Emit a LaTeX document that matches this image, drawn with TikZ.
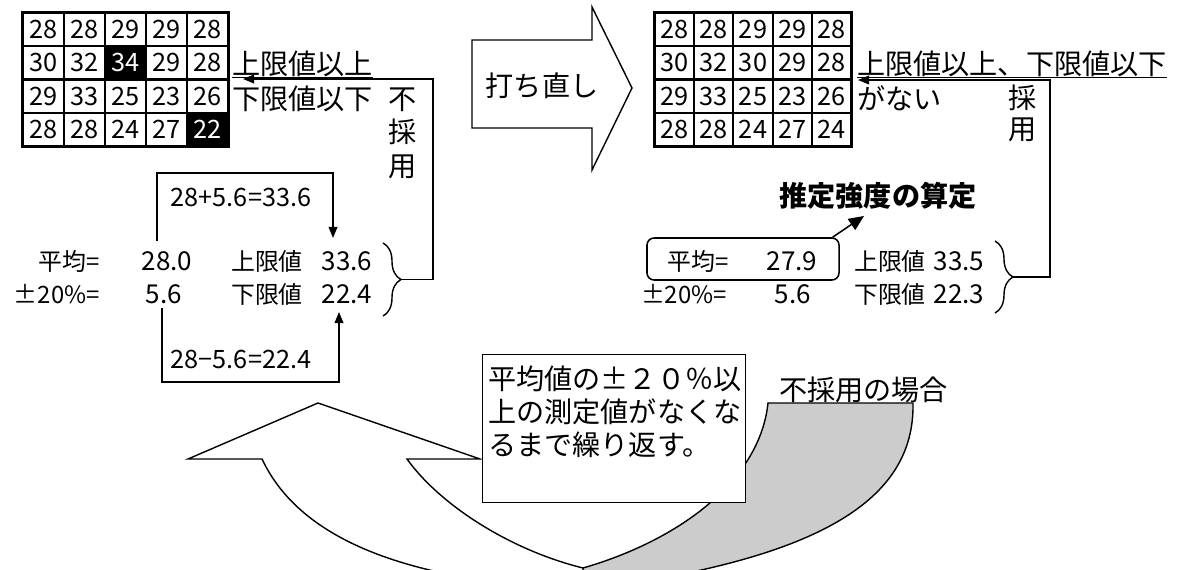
\documentclass[tikz,border=0pt]{standalone}
\usepackage{fontspec}
\setmainfont{Noto Sans CJK JP}
\usetikzlibrary{arrows.meta,decorations.pathreplacing,positioning}
\definecolor{backgray}{RGB}{204,204,204}

\begin{document}
\begin{tikzpicture}[x=0.025cm, y=-0.025cm,
        cell/.style={draw, line width=1.4pt, minimum width=1.025cm, minimum height=0.83cm,
            inner sep=0pt, font=\fontsize{18}{20}\selectfont},
        hot/.style={cell, fill=black, text=white},
        rcell/.style={cell, minimum width=0.98cm},
        lbl/.style={inner sep=0pt, font=\fontsize{20}{24}\selectfont},
        stat/.style={inner sep=0pt, font=\fontsize{17}{20}\selectfont},
        statnum/.style={inner sep=0pt, font=\fontsize{18.5}{20}\selectfont},
        arrow/.style={-{Triangle[length=0.28cm, width=0.22cm]}, line width=1.2pt},
        rbrace/.style={decorate, decoration={brace, amplitude=0.45cm}, line width=1pt},
        block/.style={draw, line width=1pt, fill=white}
    ]
        \useasboundingbox (0,0) rectangle (1178,570);

        % measured values before re-testing
        \foreach \row [count=\r] in {{28/cell,28/cell,29/cell,29/cell,28/cell},
                {30/cell,32/cell,34/hot,29/cell,28/cell},
                {29/cell,33/cell,25/cell,23/cell,26/cell},
                {28/cell,28/cell,24/cell,27/cell,22/hot}}
            \foreach \v/\s [count=\c] in \row
                \node[\s] (L\r\c) at ({23+41*(\c-0.5)},{13+33.25*(\r-0.5)}) {\v};
        \draw[line width=2pt] (L11.north west) rectangle (L45.south east);

        % values after re-testing
        \foreach \row [count=\r] in {{28,28,29,29,28},{30,32,30,29,28},
                {29,33,25,23,26},{28,28,24,27,24}}
            \foreach \v [count=\c] in \row
                \node[rcell] (R\r\c) at ({655+39.2*(\c-0.5)},{13+33.25*(\r-0.5)}) {\v};
        \draw[line width=2pt] (R11.north west) rectangle (R45.south east);

        % notes beside the grids
        \node[lbl, anchor=west] (Lover) at (232,64) {上限値以上};
        \draw[line width=1pt] (Lover.south west) -- (Lover.south east);
        \node[lbl, anchor=west] (Lunder) at (232,99) {下限値以下};
        \node[lbl, align=center, font=\fontsize{20}{23.8}\selectfont] (Lreject) at (403,133) {不\\採\\用};

        \node[lbl, anchor=west] (Rnone) at (857,64) {上限値以上、下限値以下};
        \draw[line width=1pt] (Rnone.south west) -- (Rnone.south east);
        \node[lbl, anchor=west] (Rnone2) at (857,98) {がない};
        \node[lbl, align=center, font=\fontsize{20}{22}\selectfont] (Raccept) at (1023,113.5) {採\\用};

        % block arrow
        \draw[block] (472,40) -- (592,40) -- (592,7) -- (632,88) -- (592,170) -- (592,128) -- (472,128) -- cycle;
        \node[lbl] (redo) at (542,86) {打ち直し};

        % left statistics
        \node[stat, anchor=east] (Lavgl) at (100,261) {平均=};
        \node[statnum] (Lavg) at (167,261) {28.0};
        \node[stat] (Lhil) at (267,261) {上限値};
        \node[statnum] (Lhi) at (347,261) {33.6};
        \node[stat, anchor=east] (Lpctl) at (100,294) {±20\%=};
        \node[statnum] (Lpct) at (164,294) {5.6};
        \node[stat] (Llol) at (267,294) {下限値};
        \node[statnum] (Llo) at (347,294) {22.4};

        \coordinate (LupS) at (157,241);
        \coordinate (LupE) at (333,238);
        \draw[arrow] (LupS) -- ++(0,-68) -| (LupE);
        \node[stat, font=\fontsize{18}{20}\selectfont] (Lsum) at (241,197) {28+5.6=33.6};
        \coordinate (LloS) at (162,308);
        \coordinate (LloE) at (339,312);
        \draw[arrow] (LloS) -- ++(0,74) -| (LloE);
        \node[stat, font=\fontsize{18}{20}\selectfont] (Ldiff) at (241,359) {28−5.6=22.4};

        \draw[rbrace] (383,243) -- (383,316);
        \coordinate (Lbrtip) at (401,279.5);
        \coordinate (Lin) at (243,79);
        \draw[arrow] (Lbrtip) -- ++(32,0) |- (Lin);

        % right statistics
        \node[draw, rounded corners=0.18cm, line width=1.1pt, minimum width=4.8cm, minimum height=1.05cm] (Rbox) at (743,259) {};
        \node[stat] (Ravgl) at (698,261) {平均=};
        \node[statnum] (Ravg) at (792,261) {27.9};
        \node[stat, anchor=east] (Rpctl) at (727,294) {±20\%=};
        \node[statnum] (Rpct) at (793,294) {5.6};
        \node[stat] (Rhil) at (890,261) {上限値};
        \node[statnum] (Rhi) at (959,261) {33.5};
        \node[stat] (Rlol) at (890,294) {下限値};
        \node[statnum] (Rlo) at (959,294) {22.3};

        \node[lbl, font=\bfseries\fontsize{20}{24}\selectfont] (Rtitle) at (878,196) {推定強度の算定};
        \coordinate (Rtip) at (864,216);
        \draw[-{Triangle[length=0.38cm, width=0.33cm]}, line width=1.1pt] ([xshift=-0.18cm]Rbox.north east) -- (Rtip);

        \draw[rbrace] (995,241) -- (995,313);
        \coordinate (Rbrtip) at (1013,277);
        \coordinate (Rin) at (858,80);
        \draw[arrow] (Rbrtip) -- ++(37,0) |- (Rin);

        % repeat loop
        \begin{scope}
            \clip (0,0) rectangle (1178,570);
            \draw[line width=1pt, fill=backgray] (583,568) .. controls (680,540) and (760,480) .. (768,403)
                -- (913,403) .. controls (915,500) and (820,560) .. (583,590) -- cycle;
            \draw[line width=1pt, fill=white] (188,459) -- (318,403) -- (480,459) -- (407,459)
                .. controls (440,505) and (510,550) .. (583,568) -- (583,590)
                .. controls (430,582) and (305,550) .. (262,459) -- cycle;
        \end{scope}
        \node[draw, line width=1pt, fill=white, minimum width=6.575cm, minimum height=3.7cm, anchor=north west] (note) at (482,354) {};
        \node[lbl, anchor=north west, align=left, font=\fontsize{20}{23.5}\selectfont] (notetext) at (488,366)
            {平均値の±２０％以\\上の測定値がなくな\\るまで繰り返す。};
        \node[lbl, anchor=west] (rejectcase) at (779,390) {不採用の場合};
    \end{tikzpicture}
\end{document}
